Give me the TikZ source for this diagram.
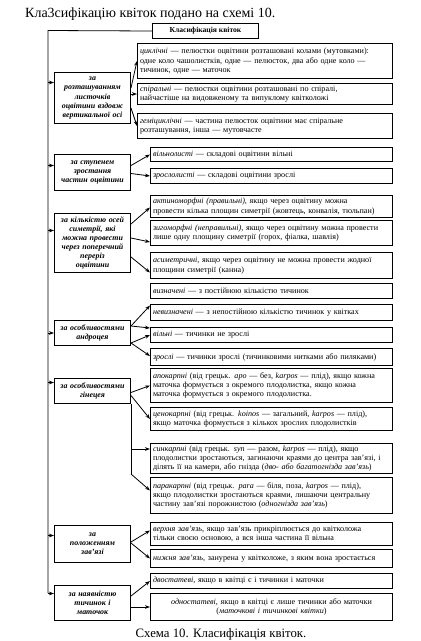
\documentclass[tikz,border=0pt]{standalone}
\usepackage{fontspec}
\setmainfont{Liberation Serif}
\usetikzlibrary{arrows.meta,calc}
\begin{document}
\begin{tikzpicture}[x=1pt,y=-1pt,
  box/.style={draw, line width=1pt, anchor=north west, inner xsep=2.5pt, inner ysep=2pt},
  rbox/.style={box, align=left, text width=237pt, minimum width=242pt, font=\fontsize{8.1}{9.4}\selectfont},
  rboxw/.style={box, align=left, text width=250pt, minimum width=255pt, font=\fontsize{8.1}{9.4}\selectfont},
  cbox/.style={box, align=center, text width=71pt, minimum width=76pt, font=\fontsize{7.9}{9.1}\selectfont\bfseries\itshape},
  arr/.style={-{Stealth[length=5pt,width=3.6pt]}, line width=0.8pt},
  conn/.style={line width=0.8pt}
]
\useasboundingbox (0,0) rectangle (421,641);
\fill[white] (0,0) rectangle (421,641);

\node[anchor=base west, inner sep=0pt, font=\fontsize{14}{16}\selectfont] (title) at (25,17) {Кла3сифікацію квіток подано на схемі 10.};
\node[box, minimum width=106pt, minimum height=15pt, font=\fontsize{7.6}{9}\selectfont\bfseries] (top) at (152,23) {\hspace*{\fill}Класифікація квіток\hspace*{\fill}};

% category boxes
\node[cbox, minimum height=51pt] (c1) at (54,72) {за\\розташуванням\\листочків\\оцвітини вздовж\\вертикальної осі};
\node[cbox, minimum height=36pt] (c2) at (54,154) {за ступенем\\зростання\\частин оцвітини};
\node[cbox, minimum height=59pt] (c3) at (54,213) {за кількістю осей\\симетрії, які\\можна провести\\через поперечний\\переріз\\оцвітини};
\node[cbox, minimum height=25pt] (c4) at (54,320) {за особливостями\\андроцея};
\node[cbox, minimum height=25pt] (c5) at (54,378) {за особливостями\\гінецея};
\node[cbox, minimum height=37pt] (c6) at (54,525) {за\\положенням\\зав’язі};
\node[cbox, minimum height=35pt] (c7) at (54,585) {за наявністю\\тичинок і\\маточок};

% right boxes
\node[rboxw, minimum height=35pt] (r1a) at (137,43) {\textit{циклічні} — пелюстки оцвітини розташовані колами (мутовками):\\одне коло чашолистків, одне — пелюсток, два або одне коло —\\тичинок, одне — маточок};
\node[rboxw, minimum height=21pt] (r1b) at (137,83) {\textit{спіральні} — пелюстки оцвітини розташовані по спіралі,\\найчастіше на видовженому та випуклому квітколожі};
\node[rboxw, minimum height=25pt] (r1c) at (137,113) {\textit{геміциклічні} — частина пелюсток оцвітини має спіральне\\розташування, інша — мутовчасте};

\node[rbox, minimum height=14pt] (r2a) at (150,147) {\textit{вільнолисті} — складові оцвітини вільні};
\node[rbox, minimum height=15pt] (r2b) at (150,168) {\textit{зрослолисті} — складові оцвітини зрослі};

\node[rbox, minimum height=22pt] (r3a) at (150,195) {\textit{актиноморфні (правильні)}, якщо через оцвітину можна\\провести кілька площин симетрії (жовтець, конвалія, тюльпан)};
\node[rbox, minimum height=25pt] (r3b) at (150,220) {\textit{зигоморфні (неправильні)}, якщо через оцвітину можна провести\\лише одну площину симетрії (горох, фіалка, шавлія)};
\node[rbox, minimum height=26pt] (r3c) at (150,252) {\textit{асиметричні}, якщо через оцвітину не можна провести жодної\\площини симетрії (канна)};

\node[rbox, minimum height=15pt] (r4o) at (150,283) {\textit{визначені} — з постійною кількістю тичинок};
\node[rbox, minimum height=16pt] (r4a) at (150,304) {\textit{невизначені} — з непостійною кількістю тичинок у квітках};
\node[rbox, minimum height=15pt] (r4b) at (150,327) {\textit{вільні} — тичинки не зрослі};
\node[rbox, minimum height=17pt] (r4c) at (150,348) {\textit{зрослі} — тичинки зрослі (тичинковими нитками або пиляками)};

\node[rbox, minimum height=34pt] (r5a) at (150,368) {\textit{апокарпні} (від грецьк. \textit{apo} — без, \textit{karpos} — плід), якщо кожна\\маточка формується з окремого плодолистка, якщо кожна\\маточка формується з окремого плодолистка.};
\node[rbox, minimum height=23pt] (r5b) at (150,407) {\textit{ценокарпні} (від грецьк. \textit{koinos} — загальний, \textit{karpos} — плід),\\якщо маточка формується з кількох зрослих плодолистків};
\node[rbox, minimum height=30pt] (r5c) at (150,443) {\textit{синкарпні} (від грецьк. \textit{syn} — разом, \textit{karpos} — плід), якщо\\плодолистки зростаються, загинаючи краями до центра зав’язі, і\\ділять її на камери, або гнізда (\textit{дво- або багатогнізда зав’язь})};
\node[rbox, minimum height=36pt] (r5d) at (150,477) {\textit{паракарпні} (від грецьк. \textit{para} — біля, поза, \textit{karpos} — плід),\\якщо плодолистки зростаються краями, лишаючи центральну\\частину зав’язі порожнистою (\textit{одногнізда зав’язь})};

\node[rbox, minimum height=23pt] (r6a) at (150,522) {\textit{верхня зав’язь}, якщо зав’язь прикріплюється до квітколожа\\тільки своєю основою, а вся інша частина її вільна};
\node[rbox, minimum height=18pt] (r6b) at (150,549) {\textit{нижня зав’язь}, занурена у квітколоже, з яким вона зростається};

\node[rbox, minimum height=15pt] (r7a) at (150,573) {\textit{двостатеві}, якщо в квітці є і тичинки і маточки};
\node[rbox, align=center, minimum height=27pt] (r7b) at (150,593) {\textit{одностатеві}, якщо в квітці є лише тичинки або маточки\\(\textit{маточкові і тичинкові квітки})};

\node[anchor=base, inner sep=0pt, font=\fontsize{12.8}{15}\selectfont] (caption) at (221,637) {Схема 10. Класифікація квіток.};

% main trunk
\coordinate (mtop) at (48,30.5);
\coordinate (mbot) at (48,593);
\draw[conn] (top.west) -- (mtop) -- (mbot);
\coordinate (a1) at ($(c1.west)+(0,-15.5)$);
\coordinate (a2) at ($(c2.west)+(0,-7)$);
\coordinate (a3) at ($(c3.west)+(0,-12.5)$);
\coordinate (a4) at (c4.west);
\coordinate (a5) at ($(c5.west)+(0,-8.5)$);
\coordinate (a6) at ($(c6.west)+(0,-8.5)$);
\coordinate (a7) at ($(c7.west)+(0,-9.5)$);
\foreach \i in {1,...,7} { \draw[arr] (a\i -| mtop) -- (a\i); }

% group 1
\draw[arr] ($(c1.east)+(0,-10)$) -- (r1a.west);
\draw[arr] (c1.east |- r1b.west) -- (r1b.west);
\draw[arr] ($(c1.east)+(0,10)$) -- (r1c.west);
% group 2
\draw[arr] ($(c2.east)+(0,-7)$) -- (r2a.west);
\draw[arr] ($(c2.east)+(0,1)$) -- (r2b.west);
% group 3
\draw[arr] ($(c3.east)+(0,-19)$) -- ($(r3a.west)+(0,1)$);
\draw[arr] ($(c3.east)+(0,-5)$) -- ($(r3b.west)+(0,9)$);
\draw[arr] ($(c3.east)+(0,14)$) -- ($(r3c.west)+(0,7)$);
% group 4
\draw[arr] ($(c4.east)+(0,-7)$) -- ($(r4a.west)+(0,-7)$);
\draw[arr] ($(c4.east)+(0,-7)$) -- ($(r4b.west)+(0,-7)$);
\draw[arr] ($(c4.east)+(0,10)$) -- (r4b.west);
\draw[arr] ($(c4.east)+(0,10)$) -- ($(r4c.west)+(0,-1)$);
% group 5
\coordinate (j5) at ($(c5.south east)+(0,45)$);
\coordinate (k5) at ($(c5.south east)+(0,70)$);
\draw[arr] ($(c5.east)+(0,1.5)$) -- (r5a.west);
\draw[arr] ($(c5.east)+(0,4.5)$) -- (r5b.west);
\draw[conn] (c5.south east) -- (k5);
\draw[arr] (j5) -- (j5 -| r5c.west);
\draw[arr] (k5) -- ($(r5d.west)+(0,-5)$);
% group 6
\draw[arr] ($(c6.east)+(0,-2)$) -- ($(r6a.west)+(0,-3.5)$);
\draw[arr] ($(c6.east)+(0,-1)$) -- (r6b.west);
% group 7
\draw[arr] ($(c7.east)+(0,-7)$) -- (r7a.west);
\draw[arr] (c7.east |- r7b.west) -- (r7b.west);
\end{tikzpicture}
\end{document}
